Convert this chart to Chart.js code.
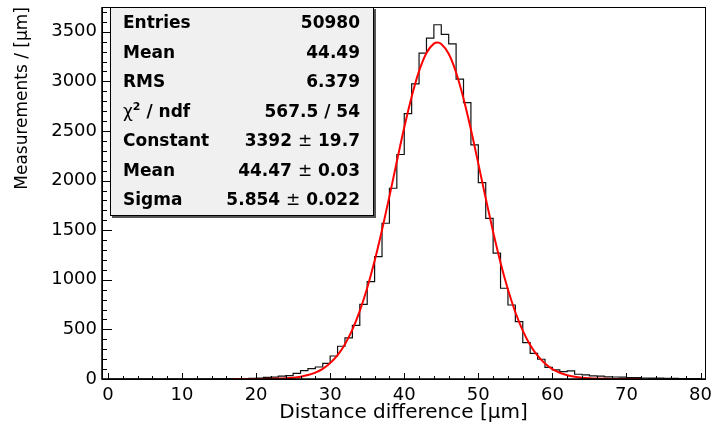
<!DOCTYPE html>
<html>
<head>
<meta charset="utf-8">
<script src="https://cdn.jsdelivr.net/npm/chart.js@4.4.1/dist/chart.umd.min.js"></script>
<style>
  body { margin: 0; background: #fff; }
  #wrap { position: relative; width: 714px; height: 430px; }
  #stats {
    position: absolute; left: 110px; top: 7px; width: 262px; height: 207px;
    background: #f0f0f0; border: 1px solid #000; box-shadow: 2px 2px 0 #555;
    font: bold 17px "DejaVu Sans", sans-serif; color: #000;
  }
  #stats .row { height: 29.57px; line-height: 29.57px; display: flex; justify-content: space-between; padding: 0 13px 0 12px; }
  #stats .pm { font-weight: normal; }
  #stats sup { font-size: 11px; position: relative; top: -7px; vertical-align: baseline; }
</style>
</head>
<body>
<div id="wrap">
  <canvas id="c" width="714" height="430"></canvas>
  <div id="stats"></div>
</div>
<script>
// histogram: bins of width 1 from 0 to 80
const binEdges = Array.from({length: 81}, (_, i) => i);
const counts = [
  0, 0, 0, 0, 0, 0, 0, 0, 0, 0,
  0, 0, 0, 0, 1, 1, 2, 3, 4, 6,
  10, 16, 18, 28, 35, 57, 84, 104, 121, 158,
  232, 330, 414, 541, 753, 982, 1234, 1570, 1923, 2263,
  2676, 2976, 3285, 3436, 3571, 3475, 3378, 3023, 2787, 2360,
  1980, 1620, 1268, 915, 746, 578, 366, 259, 199, 118,
  91, 74, 81, 48, 42, 32, 28, 22, 20, 18,
  15, 13, 10, 9, 8, 7, 6, 5, 5, 4
];

// gaussian fit
const fitX = [17, 18, 19, 20, 21, 22, 23, 24, 25, 26, 27, 28, 29, 30, 31, 32, 33, 34, 35, 36,
  37, 38, 39, 40, 41, 42, 43, 44, 44.5, 45, 46, 47, 48, 49, 50, 51, 52, 53, 54, 55,
  56, 57, 58, 59, 60, 61, 62, 63, 64, 65, 66, 67, 68, 69, 70, 71, 72];
const fitY = [0.06, 0.12, 0.26, 0.55, 1.1, 2.1, 4.1, 7.5, 13.4, 23.4, 39.5, 64.8, 103, 160, 240, 351, 497, 686, 917, 1191,
  1503, 1841, 2192, 2535, 2846, 3103, 3287, 3381, 3392, 3378, 3278, 3090, 2828, 2515, 2171, 1821, 1483, 1173, 902, 673,
  488, 343, 235, 156, 100, 63, 38, 22.6, 13.0, 7.2, 3.9, 2.1, 1.05, 0.52, 0.25, 0.12, 0.05];

const xTicks = [0, 10, 20, 30, 40, 50, 60, 70, 80];
const yTicks = [0, 500, 1000, 1500, 2000, 2500, 3000, 3500];

const statRows = [
  ['Entries', '50980'],
  ['Mean', '44.49'],
  ['RMS', '6.379'],
  ['<span class="pm">χ</span><sup>2</sup> / ndf', '567.5 / 54'],
  ['Constant', '3392 <span class="pm">±</span> 19.7'],
  ['Mean', '44.47 <span class="pm">±</span> 0.03'],
  ['Sigma', '5.854 <span class="pm">±</span> 0.022']
];
document.getElementById('stats').innerHTML =
  statRows.map(r => `<div class="row"><span>${r[0]}</span><span>${r[1]}</span></div>`).join('');

// step outline: one point per left edge, last edge repeats last value
const histPts = binEdges.map((e, i) => ({x: e, y: counts[Math.min(i, counts.length - 1)]}));
const fitPts = fitX.map((x, i) => ({x, y: fitY[i]}));

// ROOT style frame + inward ticks
const rootFrame = {
  id: 'rootFrame',
  afterDraw(chart) {
    const {ctx, chartArea: a, scales: {x, y}} = chart;
    ctx.save();
    ctx.strokeStyle = '#000';
    ctx.lineWidth = 1;
    ctx.strokeRect(a.left + 0.5, a.top + 0.5, a.right - a.left, a.bottom - a.top);
    ctx.lineWidth = 1.5;
    ctx.beginPath();
    ctx.moveTo(a.left, a.top); ctx.lineTo(a.left, a.bottom); ctx.lineTo(a.right, a.bottom);
    ctx.stroke();
    ctx.lineWidth = 1;
    ctx.beginPath();
    for (let v = 0; v <= x.max; v += 2) {
      const px = Math.round(x.getPixelForValue(v)) + 0.5;
      const len = v % 10 === 0 ? 6 : 3;
      ctx.moveTo(px, a.bottom); ctx.lineTo(px, a.bottom - len);
    }
    for (let v = 0; v <= y.max; v += 100) {
      const py = Math.round(y.getPixelForValue(v)) + 0.5;
      const len = v % 500 === 0 ? 10 : 5;
      ctx.moveTo(a.left, py); ctx.lineTo(a.left + len, py);
    }
    ctx.stroke();
    ctx.restore();
  }
};

const tickFont = {family: 'DejaVu Sans', size: 18};
const noPad = s => { s.paddingLeft = 0; s.paddingRight = 0; s.paddingTop = 0; s.paddingBottom = 0; };

new Chart(document.getElementById('c'), {
  type: 'line',
  data: {
    datasets: [
      { data: fitPts, borderColor: '#ff0000', borderWidth: 2, pointRadius: 0, cubicInterpolationMode: 'monotone', fill: false },
      { data: histPts, borderColor: '#111', borderWidth: 1.2, pointRadius: 0, stepped: true, fill: false }
    ]
  },
  options: {
    responsive: false,
    animation: false,
    devicePixelRatio: 1,
    layout: { padding: { top: 7, right: 9, left: 0, bottom: 0 } },
    plugins: { legend: { display: false }, tooltip: { enabled: false } },
    scales: {
      x: {
        type: 'linear', min: -0.8, max: 80.6,
        afterBuildTicks: s => { s.ticks = xTicks.map(v => ({value: v})); },
        afterFit: s => { s.height = 51; noPad(s); },
        grid: { display: false, drawTicks: false },
        border: { display: false },
        ticks: { color: '#000', font: tickFont, padding: 6, maxRotation: 0, callback: v => String(v) },
        title: { display: true, text: 'Distance difference [μm]', color: '#000',
                 font: {family: 'DejaVu Sans', size: 20}, padding: {top: 8, bottom: 5} }
      },
      y: {
        min: 0, max: 3750,
        afterBuildTicks: s => { s.ticks = yTicks.map(v => ({value: v})); },
        afterFit: s => { s.width = 102; noPad(s); },
        grid: { display: false, drawTicks: false },
        border: { display: false },
        ticks: { color: '#000', font: tickFont, padding: 5, callback: v => String(v) },
        title: { display: true, text: 'Measurements / [μm]', align: 'end', color: '#000',
                 font: {family: 'DejaVu Sans', size: 17}, padding: {top: 12, bottom: 0} }
      }
    }
  },
  plugins: [rootFrame]
});
</script>
</body>
</html>
